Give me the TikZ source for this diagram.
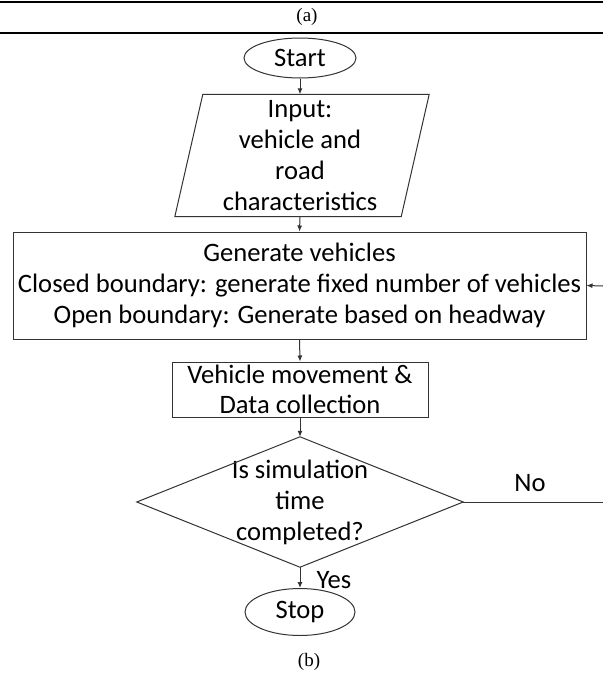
\documentclass[tikz,border=0pt]{standalone}
\usepackage{fontspec}
\setmainfont{Carlito}
\newfontfamily\capfont{Liberation Serif}
\usetikzlibrary{shapes.geometric,arrows.meta,calc}
\begin{document}
\begin{tikzpicture}[x=1pt,y=-1pt,
  every node/.style={font=\fontsize{26.6}{31}\selectfont, text=black, inner sep=0pt, align=center},
  shapeline/.style={draw=black!80, line width=1pt},
  flow/.style={draw=black!80, line width=1pt, -{Latex[length=6pt,width=5pt]}},
  rulel/.style={draw=black, line width=2.2pt},
  capt/.style={font=\capfont\fontsize{19}{22}\selectfont}]
\useasboundingbox (0,0) rectangle (603,673);
\fill[white] (0,0) rectangle (603,673);
% caption rules
\draw[rulel] (0,2) -- (603,2);
\draw[rulel] (0,33) -- (603,33);
\node[capt] (capa) at (307,17) {(a)};
% nodes
\node[shapeline, ellipse, minimum width=112pt, minimum height=40pt] (start) at (300,58) {Start};
\node[minimum width=226pt, minimum height=122pt] (input) at (300,155.5) {Input:\\vehicle and\\road\\characteristics};
\draw[shapeline] ($(input.north west)+(16,0)$) -- ($(input.north east)+(16,0)$) -- ($(input.south east)+(-12,0)$) -- ($(input.south west)+(-12,0)$) -- cycle;
\node[shapeline, rectangle, minimum width=573pt, minimum height=107pt] (gen) at (299.5,285.5) {Generate vehicles\\Closed boundary: generate fixed number of vehicles\\Open boundary: Generate based on headway};
\node[shapeline, rectangle, minimum width=256pt, minimum height=55pt, font=\fontsize{26.6}{30}\selectfont] (move) at (300,389.5) {Vehicle movement \&\\Data collection};
\node[minimum width=326pt, minimum height=130pt] (dec) at (300,502) {Is simulation\\time\\completed?};
\draw[shapeline] (dec.north) -- (dec.east) -- (dec.south) -- (dec.west) -- cycle;
\node[shapeline, ellipse, minimum width=110pt, minimum height=47pt] (stop) at (300,612) {Stop};
\node[capt] (capb) at (309,662) {(b)};
% labels
\node (yes) at (334,580) {Yes};
\node (no) at (530,483) {No};
% connectors
\coordinate (noR) at (603,502);
\coordinate (fbR) at (603,286);
\draw[flow] (start.south) -- (start.south |- input.north);
\draw[flow] (input.south) -- (gen.north);
\draw[flow] (gen.south) -- (move.north);
\draw[flow] (move.south) -- (dec.north);
\draw[flow] (dec.south) -- (stop.north);
\draw[shapeline] (dec.east) -- (noR);
\draw[flow] (fbR) -- (gen.east);
\end{tikzpicture}
\end{document}
